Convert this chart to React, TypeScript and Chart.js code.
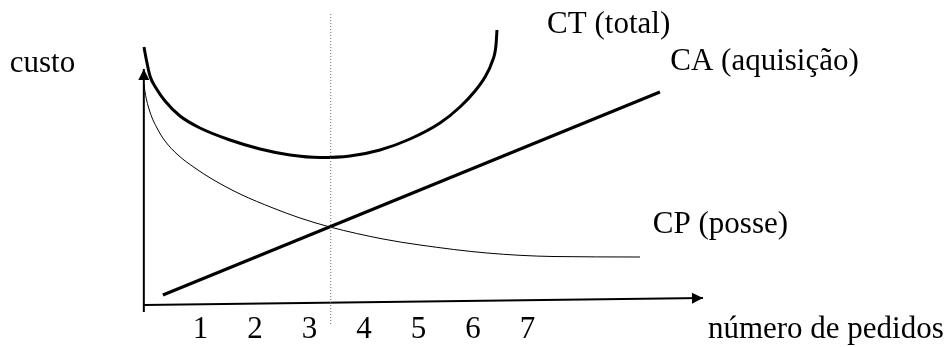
import React, { useEffect, useRef } from 'react';
import { Chart, registerables } from 'chart.js';

Chart.register(...registerables);

// Number of orders (x) tick labels
const orderTicks = [1, 2, 3, 4, 5, 6, 7];

// CT (total) curve
const ctX = [-0.037, 0, 0.073, 0.183, 0.349, 0.624, 0.991, 1.541, 2.092, 2.642, 3.193, 3.743, 4.294, 4.844, 5.394, 5.761, 6.037, 6.22, 6.349, 6.422, 6.44];
const ctY = [12.9, 12.35, 11.45, 10.85, 10.2, 9.45, 8.85, 8.25, 7.8, 7.5, 7.375, 7.45, 7.75, 8.3, 9.1, 9.9, 10.7, 11.4, 12.15, 13.0, 13.75];

// CP (posse) curve
const cpX = [-0.037, -0.018, 0.073, 0.202, 0.349, 0.587, 0.899, 1.211, 1.725, 2.33, 2.826, 3.376, 4.349, 5.028, 6.257, 7.468, 9.064];
const cpY = [11.05, 10.65, 9.65, 8.85, 8.2, 7.5, 6.85, 6.3, 5.55, 4.85, 4.35, 3.9, 3.3, 3.0, 2.6, 2.425, 2.4];

// CA (aquisição) line
const caX = [0.31, 9.43];
const caY = [0.5, 10.65];

// Axes (drawn as lines with arrow heads)
const xAxisX = [-0.04, 10.22];
const xAxisY = [0, 0.35];
const yAxisX = [-0.04, -0.04];
const yAxisY = [-0.35, 11.8];

// Optimal order quantity marker
const optX = [3.39, 3.39];
const optY = [-0.95, 14.65];

// Text labels
const labelTexts = ['custo', 'CT (total)', 'CA (aquisição)', 'CP (posse)', 'número de pedidos'];
const labelX = [-2.5, 7.36, 9.62, 9.3, 10.31];
const labelY = [11.65, 13.6, 11.75, 3.6, -1.65];

const FONT = '"Liberation Serif", "Times New Roman", serif';

const pts = (xs: number[], ys: number[]) => xs.map((x, i) => ({ x, y: ys[i] }));

const arrowPlugin = {
  id: 'arrowHeads',
  afterDatasetsDraw(chart: any) {
    const ctx = chart.ctx;
    chart.data.datasets.forEach((ds: any, i: number) => {
      if (!ds.arrow) return;
      const els = chart.getDatasetMeta(i).data;
      if (els.length < 2) return;
      const a = els[els.length - 2];
      const b = els[els.length - 1];
      const ang = Math.atan2(b.y - a.y, b.x - a.x);
      const len = 11;
      const hw = 5.5;
      ctx.save();
      ctx.fillStyle = '#000';
      ctx.beginPath();
      ctx.moveTo(b.x, b.y);
      ctx.lineTo(b.x - len * Math.cos(ang) + hw * Math.sin(ang), b.y - len * Math.sin(ang) - hw * Math.cos(ang));
      ctx.lineTo(b.x - len * Math.cos(ang) - hw * Math.sin(ang), b.y - len * Math.sin(ang) + hw * Math.cos(ang));
      ctx.closePath();
      ctx.fill();
      ctx.restore();
    });
  },
};

const textPlugin = {
  id: 'textLabels',
  afterDraw(chart: any) {
    const ctx = chart.ctx;
    const xs = chart.scales.x;
    const ys = chart.scales.y;
    ctx.save();
    ctx.font = `31px ${FONT}`;
    ctx.fillStyle = '#000';
    ctx.textAlign = 'left';
    ctx.textBaseline = 'alphabetic';
    labelTexts.forEach((t, i) => {
      ctx.fillText(t, xs.getPixelForValue(labelX[i]), ys.getPixelForValue(labelY[i]));
    });
    ctx.restore();
  },
};

export default function App() {
  const ref = useRef<HTMLCanvasElement>(null);

  useEffect(() => {
    if (!ref.current) return;
    const line = (label: string, data: any[], width: number, extra: any = {}) => ({
      label,
      data,
      showLine: true,
      borderColor: '#000',
      backgroundColor: '#000',
      borderWidth: width,
      pointRadius: 0,
      pointHoverRadius: 0,
      fill: false,
      clip: false,
      tension: 0,
      ...extra,
    });
    const chart = new Chart(ref.current, {
      type: 'scatter',
      data: {
        datasets: [
          line('ótimo', pts(optX, optY), 1, { borderColor: '#666', borderDash: [1, 2] }),
          line('eixo x', pts(xAxisX, xAxisY), 2, { arrow: true }),
          line('eixo y', pts(yAxisX, yAxisY), 2, { arrow: true }),
          line('CP (posse)', pts(cpX, cpY), 1, { cubicInterpolationMode: 'monotone' }),
          line('CA (aquisição)', pts(caX, caY), 3),
          line('CT (total)', pts(ctX, ctY), 3, { cubicInterpolationMode: 'monotone' }),
        ] as any,
      },
      options: {
        animation: false,
        responsive: false,
        layout: { padding: 0 },
        plugins: { legend: { display: false }, tooltip: { enabled: false } },
        events: [],
        scales: {
          x: {
            type: 'linear',
            position: 'bottom',
            min: -2.679,
            max: 14.679,
            grid: { display: false, drawTicks: false },
            border: { display: false },
            afterBuildTicks: (s: any) => {
              s.ticks = orderTicks.map((v) => ({ value: v }));
            },
            afterFit: (s: any) => {
              s.height = 42;
            },
            ticks: {
              font: { family: FONT, size: 31 },
              color: '#000',
              padding: 6,
              autoSkip: false,
              maxRotation: 0,
              minRotation: 0,
            },
          },
          y: {
            type: 'linear',
            display: false,
            min: 0,
            max: 15.25,
          },
        },
      } as any,
      plugins: [arrowPlugin, textPlugin],
    });
    return () => chart.destroy();
  }, []);

  return (
    <div style={{ position: 'fixed', left: 0, top: 0, width: 946, height: 347, background: '#fff' }}>
      <canvas ref={ref} width={946} height={347} style={{ display: 'block' }} />
    </div>
  );
}
